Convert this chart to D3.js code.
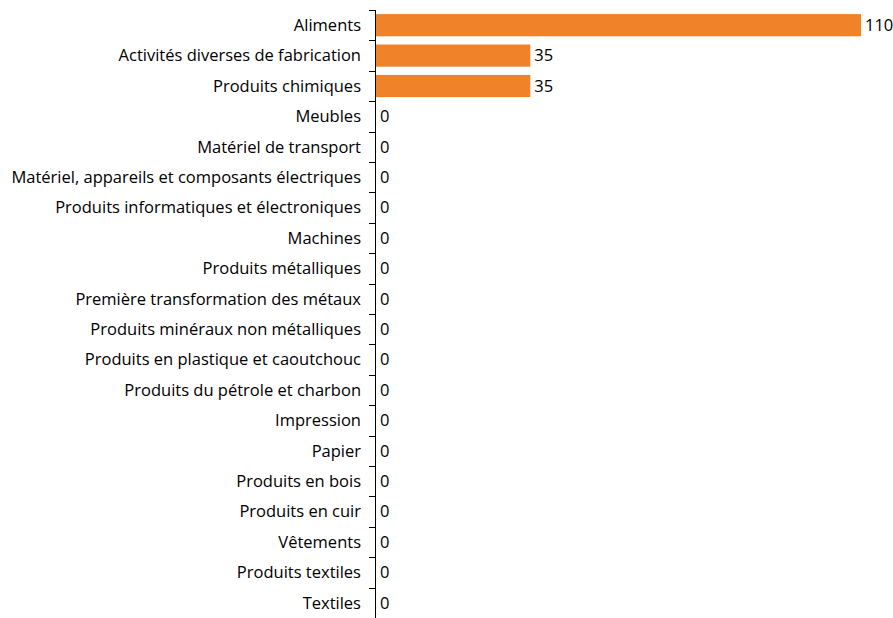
<!DOCTYPE html>
<head>
<meta charset="UTF-8">
<title>Industries</title>
<script src="https://cdn.jsdelivr.net/npm/d3@7"></script>
<style>
body{margin:0;background:#fff;}
text{font-family:"Open Sans",sans-serif;font-size:16.5px;fill:#000;}
.axis path,.axis line{stroke:#000;}
</style>
</head>
<body>
<div id="chart"></div>
<script>
var categories=["Aliments","Activités diverses de fabrication","Produits chimiques","Meubles","Matériel de transport","Matériel, appareils et composants électriques","Produits informatiques et électroniques","Machines","Produits métalliques","Première transformation des métaux","Produits minéraux non métalliques","Produits en plastique et caoutchouc","Produits du pétrole et charbon","Impression","Papier","Produits en bois","Produits en cuir","Vêtements","Produits textiles","Textiles"];
var values=[110,35,35,0,0,0,0,0,0,0,0,0,0,0,0,0,0,0,0,0];

var width=893,height=618;
var svg=d3.select("#chart").append("svg").attr("width",width).attr("height",height);

var x=d3.scaleLinear().domain([0,110]).range([376,861]);
var y=d3.scaleBand().domain(categories).range([10,618]).paddingInner(0.27).paddingOuter(0.135);

var data=categories.map(function(c,i){return {name:c,value:values[i]};});

svg.selectAll("rect").data(data).enter().append("rect")
  .attr("x",x(0))
  .attr("y",function(d){return y(d.name);})
  .attr("width",function(d){return x(d.value)-x(0);})
  .attr("height",y.bandwidth())
  .attr("fill","#F0822A");

svg.selectAll(".val").data(data).enter().append("text")
  .attr("class","val")
  .attr("x",function(d){return x(d.value)+4;})
  .attr("y",function(d){return y(d.name)+y.bandwidth()/2;})
  .attr("dy","0.35em")
  .text(function(d){return d.value;});

// axis with ticks between bands, like the source chart
var ax=svg.append("g").attr("class","axis");
ax.append("line").attr("x1",375.5).attr("x2",375.5).attr("y1",10).attr("y2",618);
var step=y.step();
d3.range(categories.length+1).forEach(function(i){
  var yy=Math.round(10+i*step)+0.5;
  ax.append("line").attr("x1",369).attr("x2",375.5).attr("y1",yy).attr("y2",yy);
});

svg.selectAll(".cat").data(data).enter().append("text")
  .attr("class","cat")
  .attr("x",361)
  .attr("y",function(d){return y(d.name)+y.bandwidth()/2;})
  .attr("dy","0.35em")
  .attr("text-anchor","end")
  .text(function(d){return d.name;});
</script>
</body>
</html>
